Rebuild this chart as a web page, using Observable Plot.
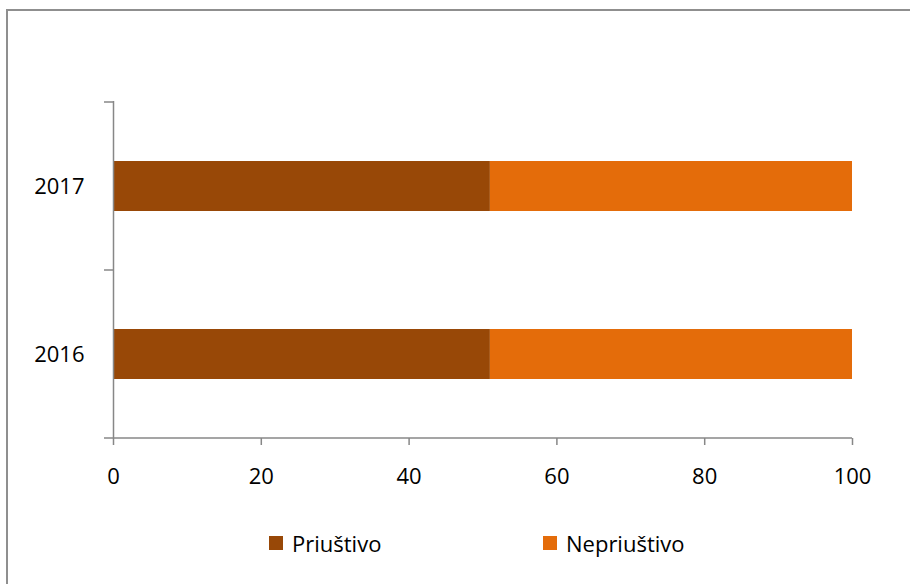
<!DOCTYPE html>
<html>
<head>
<meta charset="utf-8">
<script src="https://cdn.jsdelivr.net/npm/d3@7"></script>
<script src="https://cdn.jsdelivr.net/npm/@observablehq/plot@0.6"></script>
<style>
  html, body { margin: 0; padding: 0; background: #fff; }
  #wrap { position: relative; width: 910px; height: 584px; overflow: hidden; font-family: "Open Sans", sans-serif; }
  #frame { position: absolute; left: 6px; top: 9px; width: 1000px; height: 1000px; border-left: 2px solid #8f8f8f; border-top: 2px solid #8f8f8f; box-sizing: border-box; }
  #chart { position: absolute; left: 0; top: 0; }
  #legend { position: absolute; top: 533px; left: 0; width: 910px; height: 20px; font-size: 22px; color: #000; }
  .item { position: absolute; top: 0; display: flex; align-items: center; height: 20px; }
  .sw { width: 14px; height: 14px; margin-right: 9px; }
</style>
</head>
<body>
<div id="wrap">
  <div id="frame"></div>
  <div id="chart"></div>
  <div id="legend"></div>
</div>
<script>
const years = ["2017", "2016"];
const series = ["Priuštivo", "Nepriuštivo"];
const priustivo = [51, 51];
const nepriustivo = [49, 49];
const xTicks = [0, 20, 40, 60, 80, 100];
const colors = ["#984807", "#E46C0A"];

const data = [];
years.forEach((y, i) => {
  data.push({year: y, series: series[0], value: priustivo[i]});
  data.push({year: y, series: series[1], value: nepriustivo[i]});
});

const axisColor = "#878787";

// custom mark: x-axis baseline and y category tick marks at band boundaries
function axisDecor(index, scales, values, dimensions) {
  const {x, y} = scales;
  const g = d3.create("svg:g").attr("stroke", axisColor).attr("stroke-width", 1.5);
  const x0 = x(0), x1 = x(100);
  const bw = y.bandwidth ? y.bandwidth() : 0;
  const bottom = dimensions.height - dimensions.marginBottom;
  g.append("line").attr("x1", x0).attr("x2", x1).attr("y1", bottom).attr("y2", bottom);
  const bounds = years.map(d => y(d)).concat([y(years[years.length - 1]) + bw]);
  bounds.forEach(b => {
    g.append("line").attr("x1", x0 - 9).attr("x2", x0).attr("y1", b).attr("y2", b);
  });
  return g.node();
}

const chart = Plot.plot({
  width: 910,
  height: 584,
  marginLeft: 113,
  marginRight: 58,
  marginTop: 101,
  marginBottom: 146,
  style: {fontFamily: "'Open Sans', sans-serif", fontSize: "22px", color: "#000", background: "transparent", overflow: "visible"},
  x: {domain: [0, 100], ticks: xTicks},
  y: {domain: years, padding: 0},
  color: {domain: series, range: colors},
  marks: [
    Plot.barX(data, Plot.stackX({y: "year", x: "value", fill: "series", insetTop: 59, insetBottom: 59})),
    Plot.ruleX([0], {stroke: axisColor, strokeWidth: 1.5}),
    axisDecor,
    Plot.axisX({ticks: xTicks, tickSize: 7, tickPadding: 23, stroke: axisColor, strokeWidth: 1.5, label: null, fill: "#000"}),
    Plot.axisY({tickSize: 0, tickPadding: 29, label: null, fill: "#000"})
  ]
});
document.getElementById("chart").appendChild(chart);

const legend = document.getElementById("legend");
const lefts = [269, 543];
series.forEach((s, i) => {
  const item = document.createElement("div");
  item.className = "item";
  item.style.left = lefts[i] + "px";
  const sw = document.createElement("div");
  sw.className = "sw";
  sw.style.background = colors[i];
  const t = document.createElement("span");
  t.textContent = s;
  item.appendChild(sw);
  item.appendChild(t);
  legend.appendChild(item);
});
</script>
</body>
</html>
